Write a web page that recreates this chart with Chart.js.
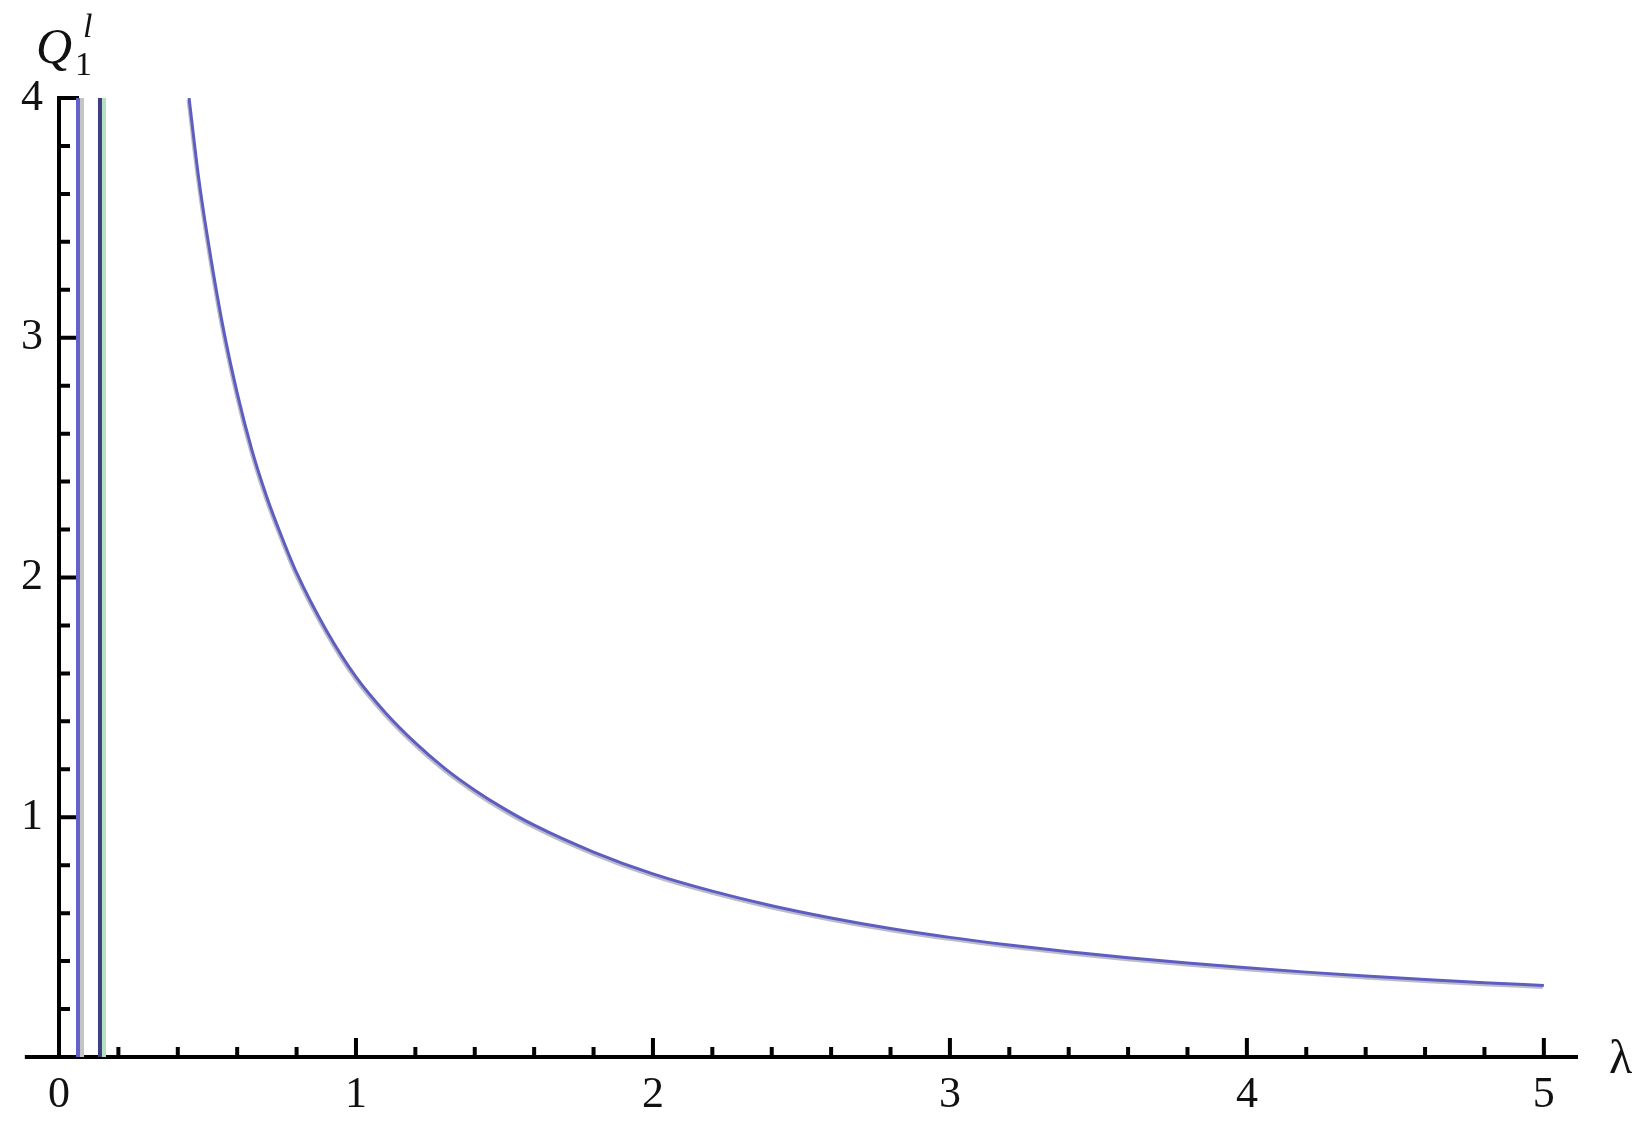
<!DOCTYPE html>
<html>
<head>
<meta charset="utf-8">
<title>Q vs lambda</title>
<script src="https://cdn.jsdelivr.net/npm/chart.js@4.4.0/dist/chart.umd.min.js"></script>
<style>
    html, body { margin: 0; padding: 0; background: #fff; }
    #wrap { width: 1651px; height: 1128px; }
</style>
</head>
<body>
<div id="wrap"><canvas id="qChart" width="1651" height="1128"></canvas></div>
<script>
(function () {
    "use strict";

    // curve
    var lambdaVals = [0.438, 0.47, 0.5, 0.55, 0.6, 0.65, 0.7, 0.75, 0.8, 0.9, 1.0, 1.1, 1.2, 1.3, 1.4, 1.5, 1.6,
                      1.8, 2.0, 2.2, 2.4, 2.6, 2.8, 3.0, 3.2, 3.4, 3.6, 3.8, 4.0, 4.2, 4.4, 4.6, 4.8, 5.0];
    var qVals      = [4.00, 3.67, 3.42, 3.06, 2.77, 2.53, 2.335, 2.17, 2.02, 1.78, 1.585, 1.435, 1.31, 1.203, 1.113, 1.035, 0.967,
                      0.855, 0.764, 0.692, 0.631, 0.58, 0.536, 0.499, 0.467, 0.439, 0.414, 0.392, 0.372, 0.354, 0.338, 0.323, 0.310, 0.298];

    // the two vertical branches near zero
    var branchX   = [0.064, 0.138];
    var branchTop = 4;

    // tick labels
    var xTickVals = [0, 1, 2, 3, 4, 5];
    var yTickVals = [1, 2, 3, 4];

    var xMin = 0, xMax = 5.115, xAxisStart = -0.115;
    var yMin = 0, yMax = 4;

    var serif = '"Liberation Serif", "Times New Roman", serif';

    var curvePts = lambdaVals.map(function (l, i) { return { x: l, y: qVals[i] }; });

    function branch(x) {
        return [{ x: x, y: 0 }, { x: x, y: branchTop }];
    }

    //axes in the mathematica style: ticks pointing inward
    var axesPlugin = {
        id: 'mmaAxes',
        beforeDatasetsDraw: function (chart) {
            var ctx = chart.ctx;
            var sx = chart.scales.x, sy = chart.scales.y;
            var x0 = sx.getPixelForValue(0), y0 = sy.getPixelForValue(0);
            ctx.save();
            ctx.strokeStyle = '#000';
            ctx.lineWidth = 4;
            ctx.lineCap = 'butt';
            ctx.beginPath();
            ctx.moveTo(sx.getPixelForValue(xAxisStart), y0);
            ctx.lineTo(sx.getPixelForValue(xMax), y0);
            ctx.moveTo(x0, y0 + 2);
            ctx.lineTo(x0, sy.getPixelForValue(yMax) - 2);
            ctx.stroke();

            ctx.beginPath();
            var v, px, len;
            for (var i = 1; i <= 25; i++) {
                v = i * 0.2;
                px = sx.getPixelForValue(v);
                len = (i % 5 === 0) ? 19 : 10;
                ctx.moveTo(px, y0);
                ctx.lineTo(px, y0 - len);
            }
            for (var j = 1; j <= 20; j++) {
                v = j * 0.2;
                px = sy.getPixelForValue(v);
                len = (j % 5 === 0) ? 20 : 11;
                ctx.moveTo(x0, px);
                ctx.lineTo(x0 + len, px);
            }
            ctx.stroke();
            ctx.restore();
        },
        beforeDatasetDraw: function (chart, args) {
            var ds = chart.data.datasets[args.index];
            if (ds.fringe) {
                chart.ctx.save();
                chart.ctx.shadowColor = ds.fringe;
                chart.ctx.shadowOffsetX = ds.fringeX || 0;
                chart.ctx.shadowOffsetY = ds.fringeY || 0;
                chart.ctx.shadowBlur = 0;
            }
        },
        afterDatasetDraw: function (chart, args) {
            if (chart.data.datasets[args.index].fringe) chart.ctx.restore();
        },
        afterDraw: function (chart) {
            var ctx = chart.ctx;
            ctx.save();
            ctx.fillStyle = '#111';
            ctx.textBaseline = 'alphabetic';
            ctx.font = 'italic 50px ' + serif;
            ctx.fillText('Q', 36, 63);
            ctx.font = '34px ' + serif;
            ctx.fillText('1', 75, 75);
            ctx.font = 'italic 34px ' + serif;
            ctx.fillText('l', 83, 37);
            ctx.font = '48px ' + serif;
            ctx.fillText('\u03bb', 1609, 1073);
            ctx.restore();
        }
    };

    var ctx = document.getElementById("qChart");
    var qChart = new Chart(ctx, {
        type: 'scatter',
        data: {
            datasets: [
                {
                    data: branch(branchX[0]),
                    showLine: true,
                    borderColor: '#6262c8',
                    borderWidth: 4,
                    pointRadius: 0,
                    fringe: '#c4c4c4',
                    fringeX: 4
                },
                {
                    data: branch(branchX[1]),
                    showLine: true,
                    borderColor: '#3e3e82',
                    borderWidth: 4,
                    pointRadius: 0,
                    fringe: '#b6e0c2',
                    fringeX: 4
                },
                {
                    data: curvePts,
                    showLine: true,
                    borderColor: '#5e5ec0',
                    borderWidth: 3,
                    pointRadius: 0,
                    cubicInterpolationMode: 'monotone',
                    fringe: 'rgba(170,170,190,0.8)',
                    fringeX: -1,
                    fringeY: 2
                }
            ]
        },
        options: {
            responsive: false,
            animation: false,
            layout: {
                padding: { left: 0, top: 98, right: 73, bottom: 0 }
            },
            plugins: {
                legend: { display: false },
                tooltip: { enabled: false }
            },
            scales: {
                x: {
                    type: 'linear',
                    min: xMin,
                    max: xMax,
                    grid: { display: false, drawTicks: false },
                    border: { display: false },
                    ticks: {
                        color: '#111',
                        font: { family: serif, size: 44 },
                        padding: 12,
                        maxRotation: 0
                    },
                    afterBuildTicks: function (scale) {
                        scale.ticks = xTickVals.map(function (v) { return { value: v }; });
                    },
                    afterFit: function (scale) { scale.height = 71; }
                },
                y: {
                    type: 'linear',
                    min: yMin,
                    max: yMax,
                    grid: { display: false, drawTicks: false },
                    border: { display: false },
                    ticks: {
                        color: '#111',
                        font: { family: serif, size: 44 },
                        padding: 16
                    },
                    afterBuildTicks: function (scale) {
                        scale.ticks = yTickVals.map(function (v) { return { value: v }; });
                    },
                    afterFit: function (scale) { scale.width = 59; }
                }
            }
        },
        plugins: [axesPlugin]
    });
})();
</script>
</body>
</html>
